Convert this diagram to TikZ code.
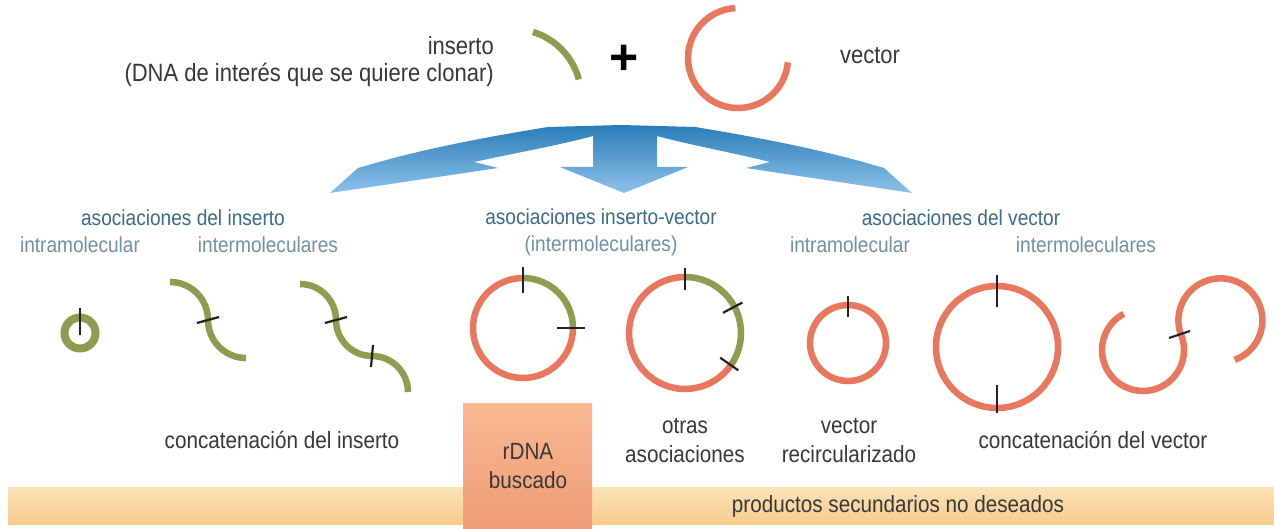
\documentclass[tikz,border=0pt]{standalone}
\usepackage{fontspec}
\setmainfont[FakeStretch=0.88]{Liberation Sans}
\newfontfamily\plusfont{Liberation Sans}
\definecolor{ins}{HTML}{8E9C50}
\definecolor{vec}{HTML}{E8775E}
\definecolor{tickc}{HTML}{222222}
\definecolor{txt}{HTML}{383838}
\definecolor{bdark}{HTML}{3A6A8C}
\definecolor{blight}{HTML}{7090A8}
\definecolor{arrtop}{HTML}{2A7DB8}
\definecolor{arrbot}{HTML}{8DC2EA}
\definecolor{bartop}{HTML}{FBE3B8}
\definecolor{barbot}{HTML}{F6CB8C}
\definecolor{boxtop}{HTML}{F8B890}
\definecolor{boxbot}{HTML}{F09C78}
\begin{document}
\begin{tikzpicture}[x=1pt,y=-1pt,
  strand/.style={line width=6.5pt},
  gstrand/.style={strand,draw=ins},
  vstrand/.style={strand,draw=vec},
  cutmark/.style={draw=tickc,line width=2.2pt},
  toptxt/.style={inner sep=0pt,text=txt,font=\fontsize{25}{27.5}\selectfont},
  grouplab/.style={inner sep=0pt,text=bdark,font=\fontsize{21.7}{27}\selectfont,align=center},
  sublab/.style={inner sep=0pt,text=blight,font=\fontsize{21.7}{27}\selectfont,align=center},
  btxt/.style={inner sep=0pt,text=txt,font=\fontsize{23.5}{28.5}\selectfont,align=center}]
\useasboundingbox (0,0) rectangle (1274,529);
\fill[white] (0,0) rectangle (1274,529);

% bottom bar and target box
\shade[top color=bartop,bottom color=barbot] (8,487) rectangle (1274,524);
\shade[top color=boxtop,bottom color=boxbot] (463,403) rectangle (592,529);

% top row
\node[toptxt,anchor=base east,align=right] (ins) at (494,82) {inserto\\(DNA de interés que se quiere clonar)};
\draw[gstrand] (533,32) arc[start angle=-73,end angle=-15,radius=68];
\node[inner sep=0pt,text=black,font=\plusfont\bfseries\fontsize{50}{50}\selectfont] (plus) at (624,60) {+};
\draw[vstrand] (735.4,8.1) arc[start angle=-93,end angle=-355,radius=50];
\node[toptxt,anchor=base] (vec) at (870,64) {vector};

% three-way arrow
\shade[top color=arrtop,bottom color=arrbot]
  (621,125) -- (548,127) .. controls (480,138) and (420,150) .. (372,164)
  -- (358,168) -- (330,193) -- (498,168) -- (474,162)
  .. controls (520,152) and (560,145) .. (593,136)
  -- (593,167) -- (560,167) -- (624,193) -- (688,167) -- (657,167) -- (657,136)
  .. controls (690,145) and (730,152) .. (770,162)
  -- (746,168) -- (912,193) -- (884,168) -- (870,164)
  .. controls (822,150) and (762,138) .. (695,127) -- cycle;

% group labels
\node[grouplab,anchor=base] (g1) at (183,226) {asociaciones del inserto};
\node[sublab,anchor=base] (s1) at (80,253) {intramolecular};
\node[sublab,anchor=base] (s2) at (268,253) {intermoleculares};
\node[grouplab,anchor=base] (g2) at (601,225) {asociaciones inserto-vector};
\node[sublab,anchor=base] (s3) at (601,252) {(intermoleculares)};
\node[grouplab,anchor=base] (g3) at (961,226) {asociaciones del vector};
\node[sublab,anchor=base] (s4) at (850,253) {intramolecular};
\node[sublab,anchor=base] (s5) at (1086,253) {intermoleculares};

% insert associations
\draw[draw=ins,line width=8pt] (80,333) circle[radius=15.5];
\draw[cutmark] (80,308) -- (80,335);
\draw[gstrand] (170,282) arc[start angle=-90,end angle=0,radius=38] arc[start angle=180,end angle=90,radius=38];
\draw[cutmark] (197,323) -- (219,317);
\draw[gstrand] (300,284) arc[start angle=-90,end angle=0,radius=36] arc[start angle=180,end angle=90,radius=36] arc[start angle=-90,end angle=0,radius=36];
\draw[cutmark] (325,323) -- (347,317);
\draw[cutmark] (373,345) -- (371,367);

% insert-vector associations
\draw[vstrand] (573,328) arc[start angle=0,end angle=270,radius=50];
\draw[gstrand] (523,278) arc[start angle=-90,end angle=0,radius=50];
\draw[cutmark] (523,293) -- (523,267);
\draw[cutmark] (557,328) -- (585,328);
\draw[vstrand] (730.9,365.1) arc[start angle=35,end angle=270,radius=56];
\draw[gstrand] (685,277) arc[start angle=-90,end angle=35,radius=56];
\draw[cutmark] (685,290) -- (685,268);
\draw[cutmark] (723,312.8) -- (742.4,302.5);
\draw[cutmark] (720.2,357.7) -- (738.2,370.3);

% vector associations
\draw[vstrand] (848,343) circle[radius=38];
\draw[cutmark] (848,317) -- (848,296);
\draw[vstrand] (997,347) circle[radius=61];
\draw[cutmark] (997,307) -- (997,275);
\draw[cutmark] (997,385) -- (997,413);
\draw[vstrand] (1123.75,313.8) arc[start angle=-118,end angle=-384,radius=41] arc[start angle=162,end angle=430,radius=42];
\draw[cutmark] (1169,338) -- (1190,331);

% bottom labels
\node[btxt,anchor=base] (l1) at (282,448) {concatenación del inserto};
\node[btxt,anchor=base] (l2) at (528,488) {rDNA\\buscado};
\node[btxt,anchor=base] (l3) at (685,462) {otras\\asociaciones};
\node[btxt,anchor=base] (l4) at (849,462) {vector\\recircularizado};
\node[btxt,anchor=base] (l5) at (1093,448) {concatenación del vector};
\node[btxt,anchor=base] (l6) at (898,512) {productos secundarios no deseados};
\end{tikzpicture}
\end{document}
